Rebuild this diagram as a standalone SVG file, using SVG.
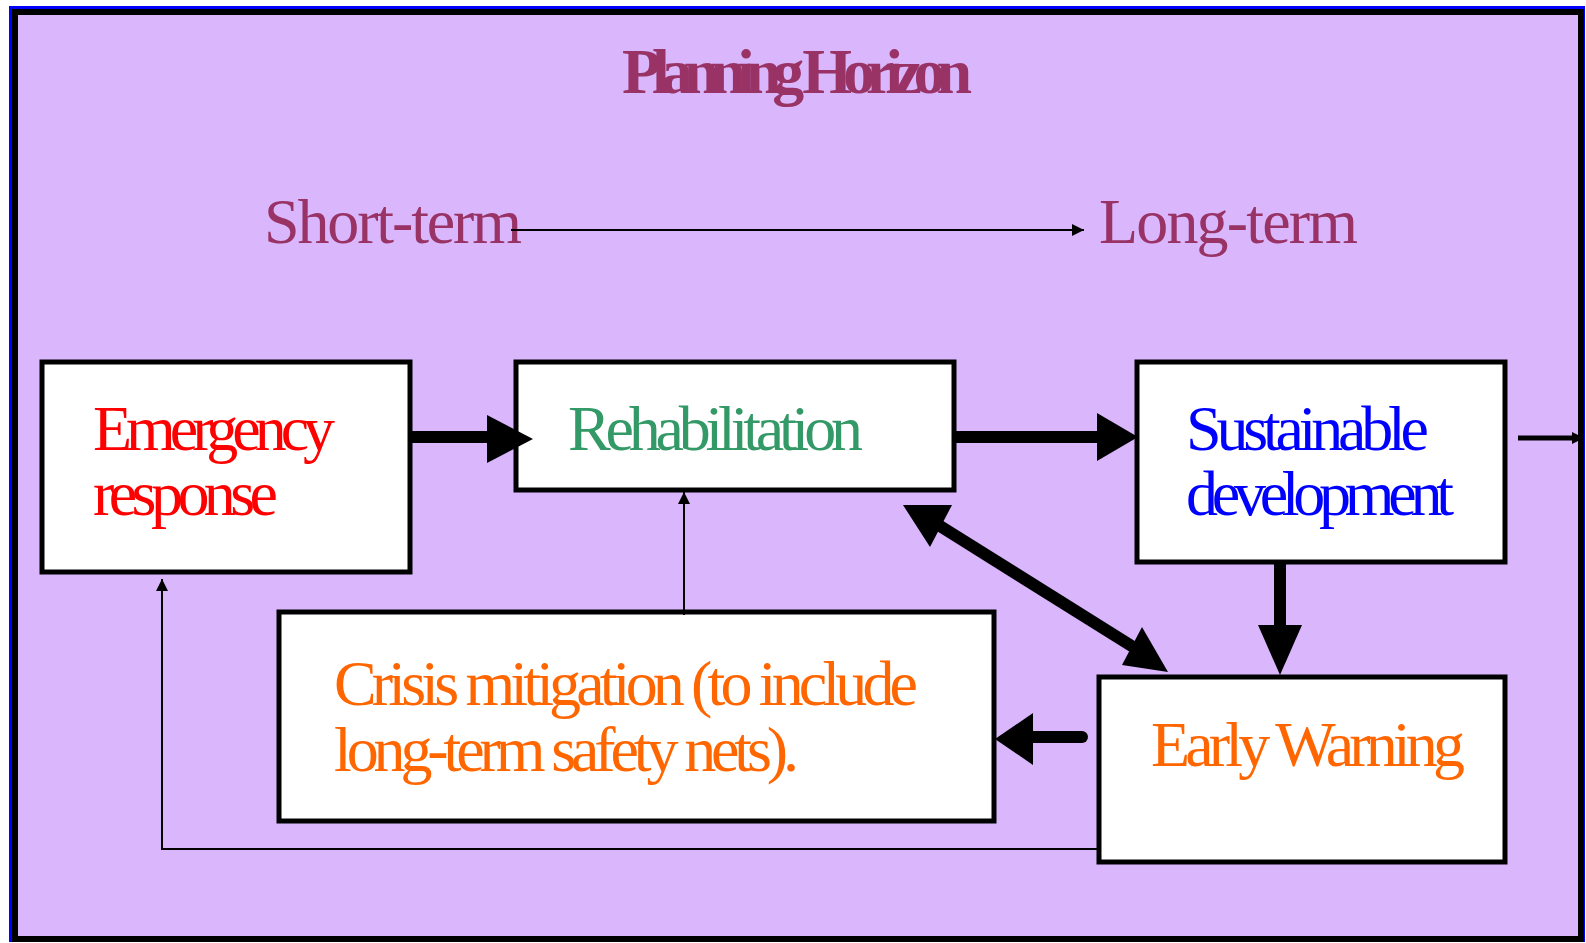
<svg xmlns="http://www.w3.org/2000/svg" width="1586" height="943" viewBox="0 0 1586 943">
<style>
.box{fill:#ffffff;stroke:#000000;stroke-width:5}
.t{font-family:"Liberation Serif","Times New Roman",serif;font-size:64px}
.thick{stroke:#000;stroke-width:12;fill:none}
.thin{stroke:#000;stroke-width:2;fill:none}
.head{fill:#000}
</style>
<defs>
<marker id="sm" viewBox="0 0 10 10" refX="10" refY="5" markerWidth="12" markerHeight="12" markerUnits="userSpaceOnUse" orient="auto">
<path d="M0,0 L10,5 L0,10 Z" fill="#000"/>
</marker>
</defs>
<rect x="0" y="0" width="1586" height="943" fill="#ffffff"/>
<rect x="9" y="6" width="1576" height="936" fill="#0000ff"/>
<rect x="15" y="12" width="1566" height="927" fill="#dab6fd" stroke="#000" stroke-width="6"/>
<g id="titles">
<text class="t" x="622" y="93" font-size="62" font-weight="bold" fill="#993366" textLength="350">Planning Horizon</text>
<text class="t" x="264" y="243" font-size="74" fill="#993366" textLength="258">Short-term</text>
<text class="t" x="1099" y="243" font-size="72" fill="#993366" textLength="259">Long-term</text>
</g>
<g id="emergency">
<rect class="box" x="42" y="362" width="368" height="210"/>
<text class="t" x="93" y="450" fill="#ff0000" textLength="242">Emergency</text>
<text class="t" x="93" y="515" fill="#ff0000" textLength="185">response</text>
</g>
<g id="rehabilitation">
<rect class="box" x="516" y="362" width="438" height="128"/>
<text class="t" x="568" y="450" fill="#339966" textLength="295">Rehabilitation</text>
</g>
<g id="sustainable">
<rect class="box" x="1137" y="362" width="368" height="200"/>
<text class="t" x="1186" y="450" fill="#0000ff" textLength="243">Sustainable</text>
<text class="t" x="1186" y="515" fill="#0000ff" textLength="268">development</text>
</g>
<g id="crisis">
<rect class="box" x="279" y="612" width="715" height="209"/>
<text class="t" x="334" y="705" fill="#ff6600" textLength="584">Crisis mitigation (to include</text>
<text class="t" x="334" y="771" fill="#ff6600" textLength="465">long-term safety nets).</text>
</g>
<g id="earlywarning">
<rect class="box" x="1099" y="677" width="406" height="185"/>
<text class="t" x="1151" y="766" fill="#ff6600" textLength="314">Early Warning</text>
</g>
<g id="connectors">
<line class="thin" x1="511" y1="230" x2="1084" y2="230" marker-end="url(#sm)"/>
<line class="thick" x1="410" y1="437" x2="490" y2="437"/>
<polygon class="head" points="487,415 533,439 487,463"/>
<line class="thick" x1="956" y1="437" x2="1100" y2="437"/>
<polygon class="head" points="1097,413 1138,437 1097,461"/>
<line class="thick" x1="1280" y1="562" x2="1280" y2="628"/>
<polygon class="head" points="1258,625 1302,625 1280,675"/>
<line class="thick" x1="1082" y1="737" x2="1030" y2="737" stroke-linecap="round"/>
<polygon class="head" points="1033,713 995,739 1033,765"/>
<line class="thick" x1="932" y1="521" x2="1138" y2="650"/>
<polygon class="head" points="903,505 952,505 930,547"/>
<polygon class="head" points="1168,672 1142,627 1122,665"/>
<line class="thin" x1="684" y1="615" x2="684" y2="492" marker-end="url(#sm)"/>
<polyline class="thin" points="1098,849 162,849 162,579" marker-end="url(#sm)"/>
<line x1="1518" y1="438" x2="1584" y2="438" stroke="#000" stroke-width="5" marker-end="url(#sm)"/>
</g>
</svg>
